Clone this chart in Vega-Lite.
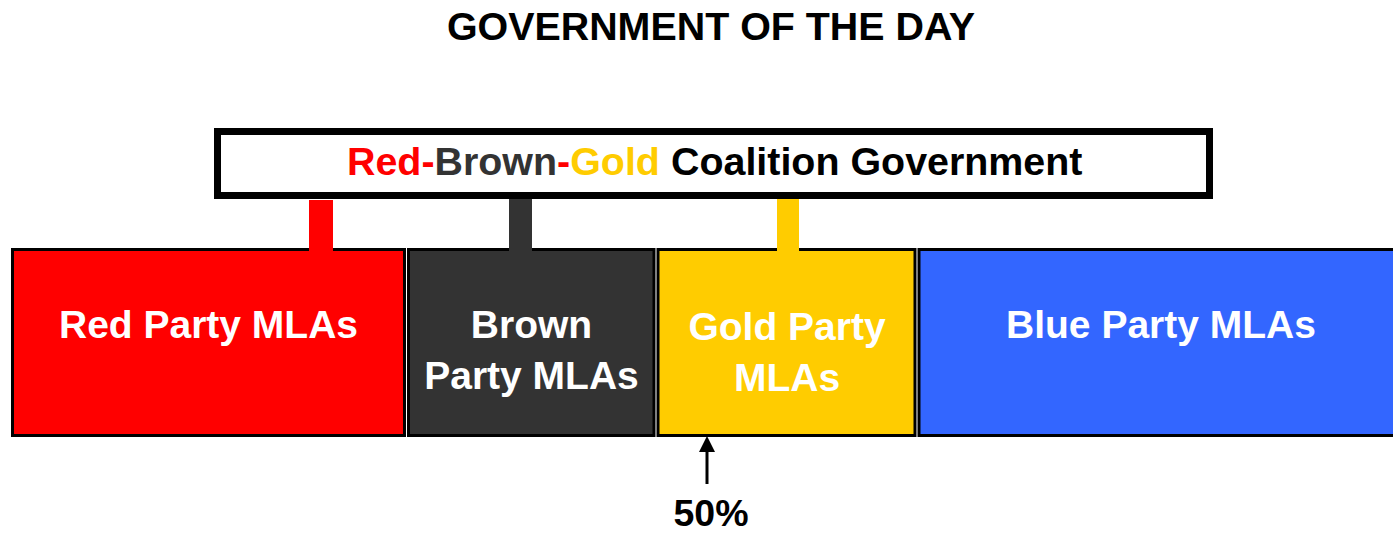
{
  "$schema": "https://vega.github.io/schema/vega-lite/v6.json",
  "width": 1393,
  "height": 534,
  "autosize": {"type": "none"},
  "padding": 0,
  "background": "white",
  "config": {"view": {"stroke": null}},
  "datasets": {
    "parties": [
      {"party": "Red", "x0": 12.5, "x1": 404.5, "yTop": 249.5, "yBot": 435.5},
      {"party": "Brown", "x0": 408.5, "x1": 654, "yTop": 249.5, "yBot": 435.5},
      {"party": "Gold", "x0": 658, "x1": 915, "yTop": 249.5, "yBot": 435.5},
      {"party": "Blue", "x0": 919, "x1": 1400, "yTop": 249.5, "yBot": 435.5}
    ],
    "connectors": [
      {"party": "Red", "x0": 309, "x1": 333, "yTop": 200, "yBot": 251},
      {"party": "Brown", "x0": 509, "x1": 532, "yTop": 198, "yBot": 251},
      {"party": "Gold", "x0": 777, "x1": 799, "yTop": 198, "yBot": 251}
    ],
    "box": [{"x0": 217.5, "x1": 1209.5, "yTop": 131.5, "yBot": 195.5}],
    "coalition": [
      {"party": "Red", "text": "Red-", "x": 347, "y": 175},
      {"party": "Brown", "text": "Brown", "x": 434.5, "y": 175},
      {"party": "Red", "text": "-", "x": 557.1, "y": 175},
      {"party": "Gold", "text": "Gold", "x": 570.2, "y": 175},
      {"party": "Black", "text": "Coalition Government", "x": 671, "y": 175}
    ],
    "labels": [
      {"text": "Red Party MLAs", "x": 208.5, "y": 338},
      {"text": "Brown", "x": 531.5, "y": 338},
      {"text": "Party MLAs", "x": 531.5, "y": 389},
      {"text": "Gold Party", "x": 787, "y": 340},
      {"text": "MLAs", "x": 787, "y": 391},
      {"text": "Blue Party MLAs", "x": 1161, "y": 338}
    ],
    "arrow": [{"x": 707, "yFrom": 484, "yTo": 450, "tip": 444}],
    "titles": [
      {"text": "GOVERNMENT OF THE DAY", "x": 711, "y": 40, "size": 39.4},
      {"text": "50%", "x": 711, "y": 526, "size": 37.5}
    ]
  },
  "resolve": {"scale": {"size": "independent"}},
  "layer": [
    {
      "data": {"name": "parties"},
      "mark": {"type": "rect", "stroke": "#000000", "strokeWidth": 3, "clip": true},
      "encoding": {
        "x": {"field": "x0", "type": "quantitative", "scale": {"domain": [0, 1393], "nice": false, "zero": false}, "axis": null},
        "x2": {"field": "x1"},
        "y": {"field": "yTop", "type": "quantitative", "scale": {"domain": [0, 534], "nice": false, "zero": false, "reverse": true}, "axis": null},
        "y2": {"field": "yBot"},
        "color": {"field": "party", "type": "nominal", "legend": null,
          "scale": {"domain": ["Red", "Brown", "Gold", "Blue", "Black"], "range": ["#FF0000", "#333333", "#FFCC00", "#3366FF", "#000000"]}}
      }
    },
    {
      "data": {"name": "connectors"},
      "mark": {"type": "rect"},
      "encoding": {
        "x": {"field": "x0", "type": "quantitative"},
        "x2": {"field": "x1"},
        "y": {"field": "yTop", "type": "quantitative"},
        "y2": {"field": "yBot"},
        "color": {"field": "party", "type": "nominal", "legend": null}
      }
    },
    {
      "data": {"name": "box"},
      "mark": {"type": "rect", "fill": "#FFFFFF", "stroke": "#000000", "strokeWidth": 7},
      "encoding": {
        "x": {"field": "x0", "type": "quantitative"},
        "x2": {"field": "x1"},
        "y": {"field": "yTop", "type": "quantitative"},
        "y2": {"field": "yBot"}
      }
    },
    {
      "data": {"name": "coalition"},
      "mark": {"type": "text", "font": "Liberation Sans", "fontWeight": "bold", "fontSize": 39.4, "align": "left", "baseline": "alphabetic"},
      "encoding": {
        "x": {"field": "x", "type": "quantitative"},
        "y": {"field": "y", "type": "quantitative"},
        "text": {"field": "text"},
        "color": {"field": "party", "type": "nominal", "legend": null}
      }
    },
    {
      "data": {"name": "labels"},
      "mark": {"type": "text", "font": "Liberation Sans", "fontWeight": "bold", "fontSize": 39, "align": "center", "baseline": "alphabetic", "fill": "#FFFFFF"},
      "encoding": {
        "x": {"field": "x", "type": "quantitative"},
        "y": {"field": "y", "type": "quantitative"},
        "text": {"field": "text"}
      }
    },
    {
      "data": {"name": "arrow"},
      "mark": {"type": "rule", "stroke": "#000000", "strokeWidth": 3},
      "encoding": {
        "x": {"field": "x", "type": "quantitative"},
        "y": {"field": "yFrom", "type": "quantitative"},
        "y2": {"field": "yTo"}
      }
    },
    {
      "data": {"name": "arrow"},
      "mark": {"type": "point", "shape": "M0,-1L1,1L-1,1Z", "filled": true, "fill": "#000000", "stroke": null, "size": 256, "opacity": 1},
      "encoding": {
        "x": {"field": "x", "type": "quantitative"},
        "y": {"field": "tip", "type": "quantitative"}
      }
    },
    {
      "data": {"name": "titles"},
      "mark": {"type": "text", "font": "Liberation Sans", "fontWeight": "bold", "align": "center", "baseline": "alphabetic", "fill": "#000000"},
      "encoding": {
        "x": {"field": "x", "type": "quantitative"},
        "y": {"field": "y", "type": "quantitative"},
        "text": {"field": "text"},
        "size": {"field": "size", "type": "quantitative", "scale": null, "legend": null}
      }
    }
  ]
}
